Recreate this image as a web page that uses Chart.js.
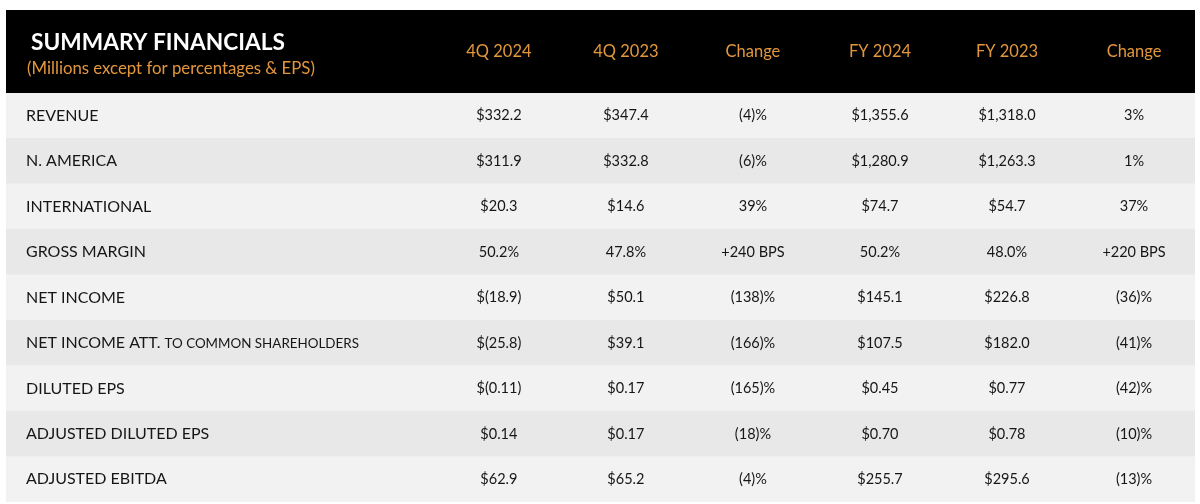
<!DOCTYPE html>
<html>
<head>
<title>Summary Financials</title>
<script src="https://cdn.jsdelivr.net/npm/chart.js"></script>
<style>
html, body { margin: 0; padding: 0; background: #fff; }
.wrap { position: relative; width: 1200px; height: 504px; }
</style>
</head>
<body>
<div class="wrap"><canvas id="tbl"></canvas></div>
<script>
// table content
const title = 'SUMMARY FINANCIALS';
const subtitle = '(Millions except for percentages & EPS)';
const columns = ['4Q 2024', '4Q 2023', 'Change', 'FY 2024', 'FY 2023', 'Change'];
const rowLabels = ['REVENUE', 'N. AMERICA', 'INTERNATIONAL', 'GROSS MARGIN', 'NET INCOME', 'NET INCOME ATT.', 'DILUTED EPS', 'ADJUSTED DILUTED EPS', 'ADJUSTED EBITDA'];
const rowLabelSmall = ['', '', '', '', '', 'TO COMMON SHAREHOLDERS', '', '', ''];
const q4_2024 = ['$332.2', '$311.9', '$20.3', '50.2%', '$(18.9)', '$(25.8)', '$(0.11)', '$0.14', '$62.9'];
const q4_2023 = ['$347.4', '$332.8', '$14.6', '47.8%', '$50.1', '$39.1', '$0.17', '$0.17', '$65.2'];
const qChange = ['(4)%', '(6)%', '39%', '+240 BPS', '(138)%', '(166)%', '(165)%', '(18)%', '(4)%'];
const fy2024 = ['$1,355.6', '$1,280.9', '$74.7', '50.2%', '$145.1', '$107.5', '$0.45', '$0.70', '$255.7'];
const fy2023 = ['$1,318.0', '$1,263.3', '$54.7', '48.0%', '$226.8', '$182.0', '$0.77', '$0.78', '$295.6'];
const fyChange = ['3%', '1%', '37%', '+220 BPS', '(36)%', '(41)%', '(42)%', '(10)%', '(13)%'];
const cells = [q4_2024, q4_2023, qChange, fy2024, fy2023, fyChange];

// x scale: column i sits at value i, the label column lives left of 0
const X_MIN = -3.88, X_MAX = 5.48;
const FONT = 'Lato, "Open Sans", sans-serif';
const ORANGE = '#e3973c';
const INK = '#161616';

const tablePlugin = {
  id: 'tableText',
  beforeDatasetsDraw(chart) {
    const { ctx, chartArea: a } = chart;
    const x = chart.scales.x;
    ctx.save();
    ctx.fillStyle = '#000';
    ctx.fillRect(a.left, 10, a.right - a.left, a.top - 10);
    ctx.textBaseline = 'alphabetic';
    ctx.textAlign = 'left';
    ctx.fillStyle = '#fff';
    ctx.font = 'bold 22.7px ' + FONT;
    ctx.fillText(title, a.left + 25, 50);
    ctx.fillStyle = ORANGE;
    ctx.font = '16.8px ' + FONT;
    ctx.fillText(subtitle, a.left + 21, 74);
    ctx.textAlign = 'center';
    ctx.textBaseline = 'middle';
    ctx.font = '16.5px ' + FONT;
    columns.forEach((c, i) => ctx.fillText(c, x.getPixelForValue(i), 52));
    ctx.restore();
  },
  afterDatasetsDraw(chart) {
    const { ctx, chartArea: a } = chart;
    const x = chart.scales.x, y = chart.scales.y;
    ctx.save();
    ctx.fillStyle = INK;
    ctx.textBaseline = 'middle';
    rowLabels.forEach((lab, r) => {
      const py = y.getPixelForValue(r);
      ctx.textAlign = 'left';
      ctx.font = '16px ' + FONT;
      ctx.fillText(lab, a.left + 20, py);
      if (rowLabelSmall[r]) {
        const w = ctx.measureText(lab + ' ').width;
        ctx.font = '13.4px ' + FONT;
        ctx.fillText(rowLabelSmall[r], a.left + 20 + w, py + 1);
      }
      ctx.textAlign = 'center';
      ctx.font = '14.5px ' + FONT;
      cells.forEach((col, c) => ctx.fillText(col[r], x.getPixelForValue(c), py));
    });
    ctx.restore();
  }
};

new Chart(document.getElementById('tbl'), {
  type: 'bar',
  data: {
    labels: rowLabels,
    datasets: [{
      data: rowLabels.map(() => [X_MIN, X_MAX]),
      backgroundColor: rowLabels.map((_, i) => i % 2 ? '#e8e8e8' : '#f2f2f2'),
      borderWidth: 0,
      barPercentage: 1,
      categoryPercentage: 1,
      borderSkipped: false
    }]
  },
  options: {
    indexAxis: 'y',
    responsive: true,
    maintainAspectRatio: false,
    animation: false,
    layout: { padding: { top: 93, left: 6, right: 5, bottom: 2 } },
    scales: {
      x: { type: 'linear', min: X_MIN, max: X_MAX, display: false },
      y: { type: 'category', display: false }
    },
    plugins: { legend: { display: false }, tooltip: { enabled: false } }
  },
  plugins: [tablePlugin]
});
</script>
</body>
</html>
